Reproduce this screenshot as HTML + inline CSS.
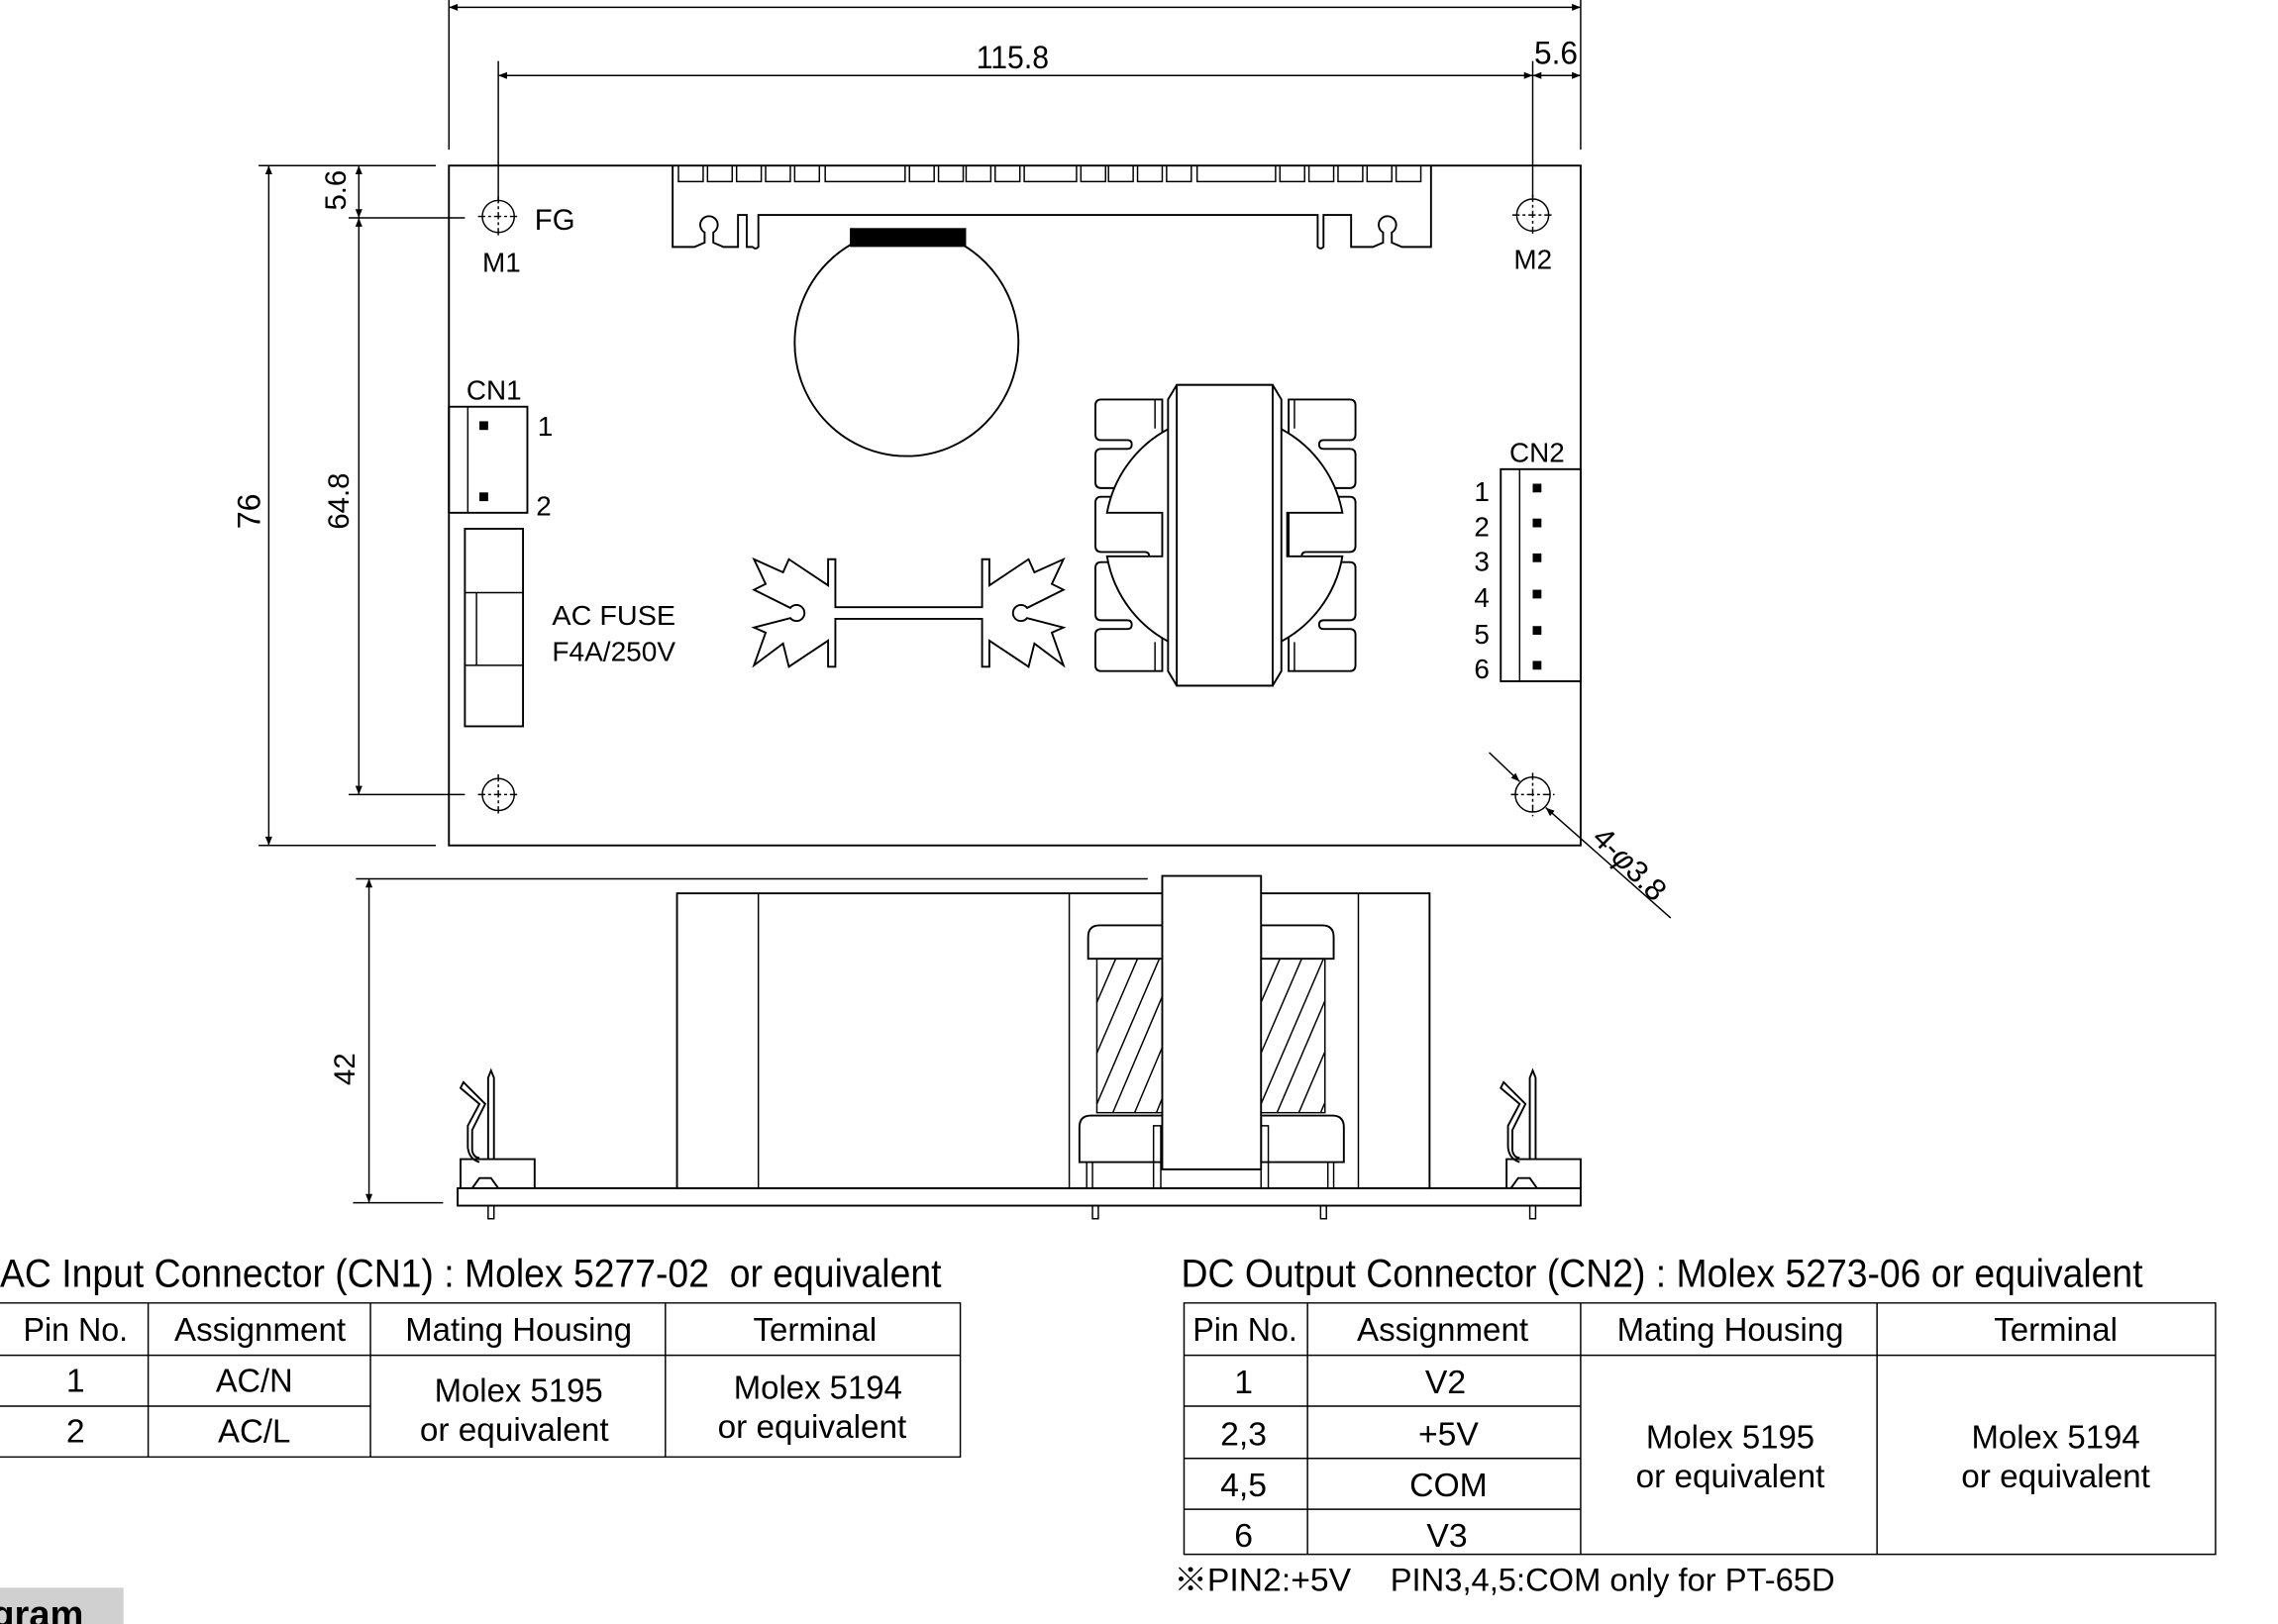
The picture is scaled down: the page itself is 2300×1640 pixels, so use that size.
<!DOCTYPE html>
<html><head><meta charset="utf-8"><style>
html,body{margin:0;padding:0;background:#fff;}
svg{display:block;}
text{font-family:"Liberation Sans","Noto Sans CJK SC",sans-serif;fill:#000;}
.l{fill:none;stroke:#000;stroke-width:1.3;}
.t{fill:none;stroke:#000;stroke-width:1;}
.d{fill:none;stroke:#000;stroke-width:1;stroke-dasharray:5 2 2 2;}
</style></head><body>
<svg width="2300" height="1640" viewBox="0 0 1568 1118" preserveAspectRatio="none" xmlns="http://www.w3.org/2000/svg">
<defs>
<marker id="a" viewBox="0 0 10 10" refX="10" refY="5" markerWidth="10" markerHeight="6" orient="auto-start-reverse" markerUnits="userSpaceOnUse"><path d="M0,1 L10,5 L0,9z" fill="#000"/></marker>
</defs>
<!-- top dims -->
<line class="t" x1="309" y1="5" x2="1088" y2="5" marker-start="url(#a)" marker-end="url(#a)"/>
<text x="697" y="-2" font-size="22" text-anchor="middle">127</text>
<line class="t" x1="309" y1="0" x2="309" y2="103"/>
<line class="t" x1="1088" y1="0" x2="1088" y2="103"/>
<line class="t" x1="343" y1="52" x2="1055" y2="52" marker-start="url(#a)" marker-end="url(#a)"/>
<line class="t" x1="1055" y1="52" x2="1088" y2="52" marker-start="url(#a)" marker-end="url(#a)"/>
<text x="697" y="47" font-size="22" text-anchor="middle" textLength="50" lengthAdjust="spacingAndGlyphs">115.8</text>
<text x="1071" y="44" font-size="22" text-anchor="middle" textLength="30" lengthAdjust="spacingAndGlyphs">5.6</text>
<line class="t" x1="343" y1="42" x2="343" y2="138"/>
<line class="t" x1="1055" y1="42" x2="1055" y2="136"/>

<!-- board -->
<rect class="l" x="309" y="114" width="779" height="468"/>
<!-- left dims -->
<line class="t" x1="178" y1="114" x2="300" y2="114"/>
<line class="t" x1="178" y1="582" x2="300" y2="582"/>
<line class="t" x1="185" y1="114" x2="185" y2="582" marker-start="url(#a)" marker-end="url(#a)"/>
<text font-size="22" transform="translate(179,352) rotate(-90)" text-anchor="middle">76</text>
<line class="t" x1="247" y1="114" x2="247" y2="150" marker-start="url(#a)" marker-end="url(#a)"/>
<line class="t" x1="247" y1="150" x2="247" y2="547" marker-start="url(#a)" marker-end="url(#a)"/>
<line class="t" x1="240" y1="150" x2="320" y2="150"/>
<line class="t" x1="240" y1="547" x2="320" y2="547"/>
<text font-size="20" transform="translate(238,131) rotate(-90)" text-anchor="middle">5.6</text>
<text font-size="20" transform="translate(240,345) rotate(-90)" text-anchor="middle">64.8</text>

<!-- holes -->
<g>
<circle class="t" cx="343" cy="149" r="11"/><line class="d" x1="329" y1="149" x2="357" y2="149"/><line class="d" x1="343" y1="135" x2="343" y2="163"/>
<circle class="t" cx="1055" cy="148" r="11"/><line class="d" x1="1041" y1="148" x2="1069" y2="148"/><line class="d" x1="1055" y1="134" x2="1055" y2="162"/>
<circle class="t" cx="343" cy="547" r="11"/><line class="d" x1="329" y1="547" x2="357" y2="547"/><line class="d" x1="343" y1="533" x2="343" y2="561"/>
<circle class="t" cx="1055" cy="547" r="12"/><line class="d" x1="1040" y1="547" x2="1070" y2="547"/><line class="d" x1="1055" y1="532" x2="1055" y2="562"/>
</g>
<text x="368" y="158" font-size="20">FG</text>
<text x="332" y="187" font-size="19">M1</text>
<text x="1042" y="185" font-size="19">M2</text>
<line class="t" x1="1025" y1="518" x2="1046" y2="538" marker-end="url(#a)"/>
<line class="t" x1="1150" y1="632" x2="1064" y2="556" marker-end="url(#a)"/>
<text font-size="21" transform="translate(1095,578) rotate(45)">4-<tspan font-style="italic">φ</tspan>3.8</text>

<!-- top heatsink -->
<path class="l" d="M463,114 V170 H478 L485,167 V160 A6,6 0 1 1 491,160 V167 L498,170 H508 V148 H514 V170 H518 Q520,172 522,170 V148 H907 V170 Q909,172 911,170 V148 H930 V170 H945 L952,167 V160 A6,6 0 1 1 958,160 V167 L965,170 H985 V114"/>
<g class="t">
<path d="M467,114 v11 h17 v-11 M487,114 v11 h17 v-11 M507,114 v11 h17 v-11 M527,114 v11 h17 v-11 M547,114 v11 h17 v-11 M568,114 v11 h55 v-11 M626,114 v11 h17 v-11 M646,114 v11 h17 v-11 M665,114 v11 h17 v-11 M685,114 v11 h17 v-11 M705,114 v11 h36 v-11 M744,114 v11 h17 v-11 M763,114 v11 h17 v-11 M783,114 v11 h17 v-11 M803,114 v11 h17 v-11 M824,114 v11 h54 v-11 M881,114 v11 h17 v-11 M901,114 v11 h17 v-11 M921,114 v11 h17 v-11 M941,114 v11 h17 v-11 M961,114 v11 h17 v-11"/>
</g>
<!-- capacitor -->
<ellipse class="l" cx="624" cy="236" rx="77" ry="78"/>
<rect x="585" y="157" width="80" height="13" fill="#000"/>

<!-- small heatsink H -->
<path class="l" d="M570,403 L543,385 L539,394 L519,385 L527,402 L519,406 L544,418.5 A5.5,5.5 0 1 1 544,425.5 L519,432 L527,435.5 L519,458 L539,443 L543,459 L570,441 V459 H575 V426 H676 V459 H681 V441 L708,459 L712,443 L732,458 L724,435.5 L732,432 L707,425.5 A5.5,5.5 0 1 1 707,418.5 L732,406 L724,402 L732,385 L712,394 L708,385 L681,403 V385 H676 V418 H575 V385 H570 Z"/>

<!-- transformer top -->
<path class="l" d="M758,275 H800 V462 H758 Q754,462 754,458 V437 Q754,433 758,433 H776 Q779,433 779,430 Q779,427 776,427 H758 Q754,427 754,423 V391 Q754,387 758,387 H788 Q791,387 791,383 Q791,380 788,380 H758 Q754,380 754,376 V346 Q754,342 758,342 H776 Q779,342 779,339 Q779,336 776,336 H758 Q754,336 754,332 V313 Q754,309 758,309 H776 Q779,309 779,306 Q779,303 776,303 H758 Q754,303 754,299 V279 Q754,275 758,275 Z"/>
<path class="l" d="M929,275 H887 V462 H929 Q933,462 933,458 V437 Q933,433 929,433 H911 Q908,433 908,430 Q908,427 911,427 H929 Q933,427 933,423 V391 Q933,387 929,387 H899 Q896,387 896,383 Q896,380 899,380 H929 Q933,380 933,376 V346 Q933,342 929,342 H911 Q908,342 908,339 Q908,336 911,336 H929 Q933,336 933,332 V313 Q933,309 929,309 H911 Q908,309 908,306 Q908,303 911,303 H929 Q933,303 933,299 V279 Q933,275 929,275 Z"/>
<path class="l" d="M809,293 A82,82 0 0 0 762,353 H800 V383 H762 A82,82 0 0 0 809,444 Z" style="fill:#fff"/>
<path class="l" d="M877,293 A82,82 0 0 1 924,353 H886 V383 H924 A82,82 0 0 1 877,444 Z" style="fill:#fff"/>
<line class="t" x1="795" y1="275" x2="795" y2="295"/><line class="t" x1="795" y1="442" x2="795" y2="462"/>
<line class="t" x1="891" y1="275" x2="891" y2="295"/><line class="t" x1="891" y1="442" x2="891" y2="462"/>
<path class="l" d="M804,275 L810,265 H876 L882,275 V462 L876,472 H810 L804,462 Z" style="fill:#fff"/>
<rect class="l" x="810" y="265" width="66" height="207" style="fill:#fff"/>

<!-- CN1 -->
<rect class="l" x="309" y="280" width="54" height="73"/>
<line class="t" x1="322" y1="280" x2="322" y2="353"/>
<rect x="330" y="290" width="6" height="6"/><rect x="330" y="339" width="6" height="6"/>
<text x="321" y="275" font-size="19">CN1</text>
<text x="370" y="300" font-size="19">1</text>
<text x="369" y="355" font-size="19">2</text>
<!-- fuse -->
<rect class="l" x="320" y="364" width="40" height="136"/>
<line class="t" x1="320" y1="408" x2="360" y2="408"/>
<line class="t" x1="320" y1="458" x2="360" y2="458"/>
<line class="t" x1="328" y1="408" x2="328" y2="458"/>
<text x="380" y="430" font-size="19" textLength="85" lengthAdjust="spacingAndGlyphs">AC FUSE</text>
<text x="380" y="455" font-size="19" textLength="85" lengthAdjust="spacingAndGlyphs">F4A/250V</text>

<!-- CN2 -->
<rect class="l" x="1033" y="323" width="55" height="146"/>
<line class="t" x1="1046" y1="323" x2="1046" y2="469"/>
<rect x="1055" y="333" width="6" height="6"/><rect x="1055" y="357" width="6" height="6"/><rect x="1055" y="381" width="6" height="6"/><rect x="1055" y="406" width="6" height="6"/><rect x="1055" y="431" width="6" height="6"/><rect x="1055" y="455" width="6" height="6"/>
<text x="1039" y="318" font-size="19">CN2</text>
<g font-size="19" text-anchor="middle">
<text x="1020" y="345">1</text><text x="1020" y="369">2</text><text x="1020" y="393">3</text><text x="1020" y="418">4</text><text x="1020" y="443">5</text><text x="1020" y="467">6</text>
</g>

<!-- bottom view -->
<line class="t" x1="245" y1="605" x2="790" y2="605"/>
<line class="t" x1="243" y1="828" x2="305" y2="828"/>
<line class="t" x1="254" y1="605" x2="254" y2="828" marker-start="url(#a)" marker-end="url(#a)"/>
<text font-size="20" transform="translate(244,736) rotate(-90)" text-anchor="middle">42</text>
<rect class="l" x="315" y="818" width="773" height="12"/>
<rect class="l" x="466" y="615" width="518" height="203"/>
<line class="t" x1="522" y1="615" x2="522" y2="818"/>
<line class="t" x1="736" y1="615" x2="736" y2="818"/>
<line class="t" x1="935" y1="615" x2="935" y2="818"/>
<!-- bobbins -->
<path class="l" d="M749,660 V645 Q749,637 757,637 H800 V660 Z" style="fill:#fff"/>
<path class="l" d="M918,660 V645 Q918,637 910,637 H868 V660 Z" style="fill:#fff"/>
<rect class="t" x="755" y="660" width="45" height="106"/>
<rect class="t" x="868" y="660" width="44" height="106"/>
<g class="t">
<path d="M755,690 L768,660 M755,725 L783,660 M755,760 L798,660 M766,766 L800,686 M781,766 L800,721 M796,766 L800,756"/>
<path d="M868,690 L881,660 M868,725 L896,660 M868,760 L911,660 M879,766 L912,689 M894,766 L912,724 M909,766 L912,759"/>
</g>
<path class="l" d="M743,800 V776 Q743,768 751,768 H800 V800 Z"/>
<path class="l" d="M925,800 V776 Q925,768 917,768 H868 V800 Z"/>
<line class="t" x1="748" y1="800" x2="748" y2="818"/><line class="t" x1="752" y1="800" x2="752" y2="818"/>
<line class="t" x1="914" y1="800" x2="914" y2="818"/><line class="t" x1="918" y1="800" x2="918" y2="818"/>
<rect class="t" x="794" y="775" width="5" height="43"/><rect class="t" x="868" y="775" width="5" height="43"/>
<rect class="l" x="800" y="603" width="68" height="202" style="fill:#fff"/>
<!-- pins below -->
<g class="t">
<rect x="336" y="830" width="4" height="9"/><rect x="752" y="830" width="4" height="9"/><rect x="909" y="830" width="4" height="9"/><rect x="1053" y="830" width="4" height="9"/>
</g>
<!-- clips -->
<path class="l" d="M317,818 V798 H368 V818"/>
<path class="l" d="M325,818 L330,811 H338 L343,818"/>
<path class="l" d="M336,798 V742 L338,737 L340,742 V798"/>
<path class="l" d="M330,800 Q323,798 322,790 V775 L330,760 L317,749 L319,745 L334,760 L325,778 V792 Q326,797 330,797"/>
<path class="l" d="M1088,818 V798 H1037 V818"/>
<path class="l" d="M1040,818 L1045,811 H1053 L1058,818"/>
<path class="l" d="M1053,798 V742 L1055,737 L1057,742 V798"/>
<path class="l" d="M1046,800 Q1039,798 1038,790 V775 L1046,760 L1033,749 L1035,745 L1050,760 L1041,778 V792 Q1042,797 1046,797"/>

<!-- AC table -->
<text x="0" y="886" font-size="27" textLength="648" lengthAdjust="spacingAndGlyphs" xml:space="preserve">AC Input Connector (CN1) : Molex 5277-02  or equivalent</text>
<g class="t">
<path d="M0,897 H661 V1003 H0 M0,933 H661 M0,968 H255 M102,897 V1003 M255,897 V1003 M458,897 V1003"/>
</g>
<g font-size="23" text-anchor="middle">
<text x="52" y="923" textLength="72" lengthAdjust="spacingAndGlyphs">Pin No.</text>
<text x="179" y="923" textLength="118" lengthAdjust="spacingAndGlyphs">Assignment</text>
<text x="357" y="923" textLength="156" lengthAdjust="spacingAndGlyphs">Mating Housing</text>
<text x="561" y="923" textLength="85" lengthAdjust="spacingAndGlyphs">Terminal</text>
<text x="52" y="958">1</text><text x="175" y="958" textLength="53" lengthAdjust="spacingAndGlyphs">AC/N</text>
<text x="52" y="993">2</text><text x="175" y="993" textLength="50" lengthAdjust="spacingAndGlyphs">AC/L</text>
<text x="357" y="965" textLength="116" lengthAdjust="spacingAndGlyphs">Molex 5195</text>
<text x="354" y="992" textLength="130" lengthAdjust="spacingAndGlyphs">or equivalent</text>
<text x="563" y="963" textLength="116" lengthAdjust="spacingAndGlyphs">Molex 5194</text>
<text x="559" y="990" textLength="130" lengthAdjust="spacingAndGlyphs">or equivalent</text>
</g>

<!-- DC table -->
<text x="813" y="886" font-size="27" textLength="662" lengthAdjust="spacingAndGlyphs">DC Output Connector (CN2) : Molex 5273-06 or equivalent</text>
<g class="t">
<path d="M815,897 H1525 V1070 H815 Z M815,933 H1525 M815,968 H1088 M815,1004 H1088 M815,1039 H1088 M900,897 V1070 M1088,897 V1070 M1292,897 V1070"/>
</g>
<g font-size="23" text-anchor="middle">
<text x="857" y="923" textLength="72" lengthAdjust="spacingAndGlyphs">Pin No.</text>
<text x="993" y="923" textLength="118" lengthAdjust="spacingAndGlyphs">Assignment</text>
<text x="1191" y="923" textLength="156" lengthAdjust="spacingAndGlyphs">Mating Housing</text>
<text x="1415" y="923" textLength="85" lengthAdjust="spacingAndGlyphs">Terminal</text>
<text x="856" y="959">1</text><text x="995" y="959">V2</text>
<text x="856" y="995">2,3</text><text x="997" y="995">+5V</text>
<text x="856" y="1030">4,5</text><text x="997" y="1030">COM</text>
<text x="856" y="1065">6</text><text x="996" y="1065">V3</text>
<text x="1191" y="997" textLength="116" lengthAdjust="spacingAndGlyphs">Molex 5195</text>
<text x="1191" y="1024" textLength="130" lengthAdjust="spacingAndGlyphs">or equivalent</text>
<text x="1415" y="997" textLength="116" lengthAdjust="spacingAndGlyphs">Molex 5194</text>
<text x="1415" y="1024" textLength="130" lengthAdjust="spacingAndGlyphs">or equivalent</text>
</g>
<text x="808" y="1095" font-size="22" textLength="122" lengthAdjust="spacingAndGlyphs">※PIN2:+5V</text>
<text x="957" y="1095" font-size="22" textLength="306" lengthAdjust="spacingAndGlyphs">PIN3,4,5:COM only for PT-65D</text>

<rect x="0" y="1093" width="85" height="25" fill="#d0d0d0"/>
<text x="-6" y="1120" font-size="26" font-weight="bold">gram</text>
</svg>
</body></html>
